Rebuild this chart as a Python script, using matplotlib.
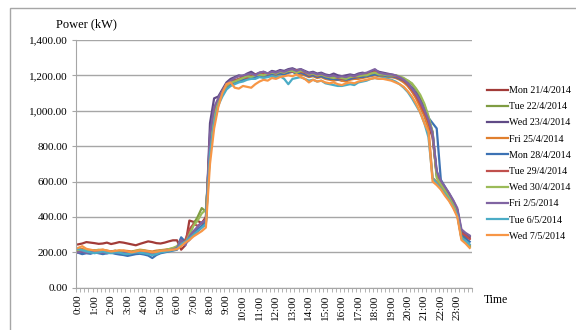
import numpy as np
import matplotlib
matplotlib.use("Agg")
import matplotlib.pyplot as plt
from matplotlib.patches import Rectangle
from matplotlib.ticker import FuncFormatter

plt.rcParams['font.family'] = ['Liberation Serif', 'DejaVu Serif']

# 15 minute readings, 0:00 .. 23:45
times = [f"{h}:{m:02d}" for h in range(24) for m in (0, 15, 30, 45)]

labels = ["Mon 21/4/2014", "Tue 22/4/2014", "Wed 23/4/2014", "Fri 25/4/2014",
          "Mon 28/4/2014", "Tue 29/4/2014", "Wed 30/4/2014", "Fri 2/5/2014",
          "Tue 6/5/2014", "Wed 7/5/2014"]

colors = ["#A23B38", "#7F9C42", "#604A86", "#E07F2E", "#3C72B4",
          "#C0504D", "#9BBB59", "#8064A2", "#4BACC6", "#F79646"]

mon_21_4 = [245, 250, 258, 255, 252, 248, 250, 255, 247, 252, 258, 255,
            250, 245, 240, 248, 255, 262, 258, 252, 250, 255, 262, 268,
            268, 215, 240, 380, 372, 378, 365, 400, 850, 990, 1060, 1110,
            1140, 1160, 1175, 1170, 1185, 1195, 1190, 1200, 1205, 1195, 1200, 1210,
            1205, 1215, 1210, 1220, 1225, 1215, 1230, 1210, 1195, 1205, 1190, 1200,
            1185, 1190, 1175, 1180, 1170, 1180, 1185, 1180, 1190, 1195, 1200, 1205,
            1215, 1205, 1210, 1200, 1195, 1190, 1180, 1165, 1140, 1110, 1075, 1030,
            980, 920, 850, 640, 590, 550, 510, 470, 420, 300, 285, 280]
tue_22_4 = [210, 205, 200, 208, 212, 205, 200, 198, 205, 210, 202, 200,
            198, 195, 200, 205, 208, 203, 198, 200, 205, 210, 215, 220,
            230, 250, 270, 300, 360, 400, 450, 430, 760, 960, 1050, 1100,
            1135, 1155, 1170, 1180, 1185, 1190, 1200, 1195, 1205, 1210, 1200, 1215,
            1210, 1220, 1215, 1225, 1230, 1220, 1215, 1220, 1200, 1210, 1195, 1200,
            1190, 1185, 1190, 1180, 1185, 1180, 1190, 1185, 1195, 1200, 1195, 1205,
            1210, 1200, 1205, 1200, 1200, 1195, 1190, 1180, 1170, 1150, 1120, 1080,
            1030, 960, 870, 630, 590, 555, 515, 475, 430, 290, 265, 235]
wed_23_4 = [200, 195, 205, 200, 198, 203, 200, 195, 200, 198, 195, 200,
            203, 198, 200, 205, 200, 195, 198, 203, 205, 208, 210, 215,
            222, 280, 250, 270, 300, 320, 340, 360, 930, 1070, 1080, 1120,
            1160, 1180, 1190, 1200, 1195, 1210, 1220, 1205, 1215, 1220, 1210, 1225,
            1220, 1230, 1225, 1235, 1240, 1230, 1235, 1225, 1215, 1220, 1210, 1215,
            1205, 1200, 1210, 1200, 1195, 1200, 1205, 1200, 1210, 1215, 1210, 1220,
            1230, 1220, 1215, 1210, 1205, 1200, 1190, 1175, 1155, 1130, 1100, 1060,
            1010, 950, 880, 650, 600, 565, 530, 490, 440, 320, 305, 290]
fri_25_4 = [215, 220, 210, 205, 208, 212, 215, 210, 205, 200, 205, 210,
            208, 205, 210, 215, 212, 208, 205, 210, 212, 215, 218, 222,
            228, 245, 265, 290, 310, 330, 345, 370, 800, 970, 1060, 1110,
            1150, 1165, 1160, 1170, 1180, 1185, 1190, 1200, 1195, 1200, 1195, 1205,
            1200, 1210, 1205, 1215, 1220, 1210, 1205, 1200, 1190, 1195, 1185, 1190,
            1180, 1175, 1170, 1175, 1170, 1165, 1175, 1180, 1180, 1185, 1190, 1195,
            1200, 1195, 1195, 1190, 1190, 1185, 1175, 1160, 1140, 1110, 1070, 1020,
            970, 900, 620, 600, 570, 540, 500, 460, 410, 280, 260, 240]
mon_28_4 = [198, 190, 195, 192, 200, 195, 190, 195, 198, 192, 188, 185,
            180, 185, 190, 192, 188, 182, 168, 185, 195, 200, 205, 210,
            215, 285, 260, 280, 300, 330, 350, 370, 780, 950, 1040, 1100,
            1130, 1150, 1160, 1165, 1175, 1180, 1185, 1190, 1195, 1200, 1195, 1205,
            1205, 1210, 1205, 1215, 1220, 1210, 1215, 1205, 1195, 1200, 1190, 1195,
            1185, 1180, 1180, 1175, 1180, 1175, 1180, 1185, 1190, 1190, 1195, 1200,
            1205, 1200, 1200, 1195, 1195, 1190, 1180, 1170, 1150, 1125, 1090, 1050,
            1000, 960, 930, 900, 610, 570, 530, 490, 440, 300, 280, 260]
tue_29_4 = [205, 210, 200, 205, 210, 208, 205, 200, 203, 208, 205, 200,
            198, 202, 205, 200, 198, 195, 200, 205, 210, 212, 215, 218,
            225, 240, 270, 330, 360, 350, 365, 390, 830, 980, 1055, 1105,
            1140, 1160, 1170, 1180, 1190, 1185, 1195, 1205, 1200, 1210, 1205, 1215,
            1210, 1220, 1215, 1225, 1220, 1230, 1220, 1215, 1200, 1210, 1195, 1205,
            1195, 1190, 1185, 1185, 1180, 1185, 1190, 1190, 1195, 1200, 1205, 1210,
            1220, 1210, 1205, 1205, 1200, 1195, 1185, 1170, 1150, 1120, 1085, 1040,
            990, 940, 860, 640, 595, 560, 520, 480, 435, 310, 295, 275]
wed_30_4 = [212, 208, 215, 205, 210, 215, 212, 208, 202, 205, 210, 206,
            200, 203, 208, 212, 210, 205, 200, 205, 210, 212, 218, 225,
            235, 265, 250, 300, 350, 380, 420, 440, 790, 960, 1050, 1100,
            1140, 1160, 1165, 1175, 1185, 1195, 1190, 1200, 1205, 1200, 1210, 1215,
            1210, 1220, 1215, 1225, 1225, 1215, 1225, 1220, 1205, 1210, 1200, 1205,
            1195, 1190, 1185, 1190, 1185, 1180, 1190, 1195, 1195, 1200, 1200, 1210,
            1215, 1205, 1205, 1200, 1200, 1200, 1195, 1185, 1170, 1155, 1125, 1090,
            1040, 970, 880, 620, 585, 550, 510, 470, 420, 285, 260, 230]
fri_2_5 = [200, 205, 198, 202, 205, 200, 198, 202, 205, 200, 196, 198,
           202, 200, 198, 203, 205, 200, 197, 200, 205, 208, 212, 216,
           225, 270, 240, 290, 320, 345, 370, 380, 870, 1020, 1070, 1110,
           1150, 1170, 1185, 1195, 1200, 1205, 1210, 1200, 1215, 1220, 1210, 1220,
           1215, 1225, 1220, 1230, 1235, 1225, 1235, 1220, 1210, 1215, 1205, 1210,
           1200, 1195, 1200, 1190, 1195, 1190, 1200, 1195, 1205, 1210, 1215, 1225,
           1235, 1215, 1210, 1205, 1205, 1200, 1190, 1175, 1155, 1125, 1095, 1055,
           1005, 950, 870, 660, 605, 570, 535, 495, 450, 330, 310, 295]
tue_6_5 = [220, 212, 205, 200, 195, 200, 205, 198, 195, 200, 198, 192,
           190, 195, 200, 198, 195, 190, 185, 190, 200, 203, 208, 212,
           220, 245, 260, 280, 300, 320, 340, 360, 760, 930, 1030, 1080,
           1120, 1140, 1150, 1160, 1165, 1175, 1180, 1180, 1190, 1185, 1190, 1195,
           1190, 1195, 1180, 1150, 1180, 1185, 1190, 1180, 1170, 1175, 1165, 1170,
           1155, 1150, 1145, 1140, 1140, 1145, 1150, 1145, 1160, 1165, 1170, 1180,
           1185, 1180, 1185, 1180, 1175, 1165, 1150, 1130, 1105, 1070, 1030, 990,
           930, 850, 620, 590, 560, 530, 495, 455, 410, 280, 265, 245]
wed_7_5 = [225, 235, 220, 215, 210, 212, 215, 210, 205, 208, 212, 210,
           205, 200, 205, 210, 208, 205, 200, 203, 208, 210, 212, 215,
           218, 235, 255, 270, 290, 305, 320, 340, 700, 900, 1020, 1100,
           1150, 1160, 1130, 1125, 1140, 1135, 1130, 1150, 1165, 1175, 1170, 1185,
           1180, 1190, 1195, 1200, 1195, 1205, 1190, 1180, 1160, 1175, 1165, 1170,
           1160, 1155, 1160, 1150, 1145, 1155, 1160, 1155, 1165, 1170, 1175, 1180,
           1185, 1180, 1180, 1175, 1170, 1160, 1150, 1135, 1110, 1080, 1040, 990,
           930, 880, 600, 580, 555, 520, 490, 450, 400, 270, 250, 225]

series = [mon_21_4, tue_22_4, wed_23_4, fri_25_4, mon_28_4,
          tue_29_4, wed_30_4, fri_2_5, tue_6_5, wed_7_5]

fig = plt.figure(figsize=(5.76, 3.3), dpi=100)
ax = fig.add_axes([0.132, 0.128, 0.687, 0.751])

# thin frame around the whole chart (only top/left visible in the source)
fig.patches.append(Rectangle((10 / 576, -0.1), 1.2, (330 - 8) / 330 + 0.1,
                             transform=fig.transFigure, fill=False,
                             edgecolor="#A6A6A6", lw=1.0))

x = np.arange(len(times))
for vals, lab, c in zip(series, labels, colors):
    ax.plot(x, vals, color=c, lw=1.6, label=lab)

ax.set_xlim(-0.5, len(times) - 0.5)
ax.set_ylim(0, 1400)
ax.set_yticks(np.arange(0, 1401, 200))
ax.yaxis.set_major_formatter(FuncFormatter(lambda v, p: f"{v:,.2f}"))
ax.grid(axis="y", color="#A6A6A6", lw=1.0)
ax.set_axisbelow(True)

# hour labels every 4th point, little ticks between every point
ax.set_xticks(x[::4])
ax.set_xticklabels(times[::4], rotation=90)
ax.set_xticks(np.arange(-0.5, len(times)), minor=True)
ax.tick_params(axis="x", which="major", length=0, pad=5, labelsize=8)
ax.tick_params(axis="x", which="minor", length=3, color="#A6A6A6", direction="out")
ax.tick_params(axis="y", length=3, color="#A6A6A6", labelsize=8, pad=3)

for s in ["top", "right"]:
    ax.spines[s].set_visible(False)
for s in ["left", "bottom"]:
    ax.spines[s].set_color("#A6A6A6")

fig.text(86 / 576, 1 - 24 / 330, "Power (kW)", ha="center", va="center", fontsize=9)
fig.text(496 / 576, 1 - 300 / 330, "Time", ha="center", va="center", fontsize=8.5)

ax.legend(loc="upper left", bbox_to_anchor=(487 / 576, 1 - 86 / 330),
          bbox_transform=fig.transFigure, frameon=False, fontsize=7.2,
          handlelength=2.1, handletextpad=0.1, labelspacing=0.72,
          borderpad=0, borderaxespad=0)

fig.savefig("out.png", dpi=100)
